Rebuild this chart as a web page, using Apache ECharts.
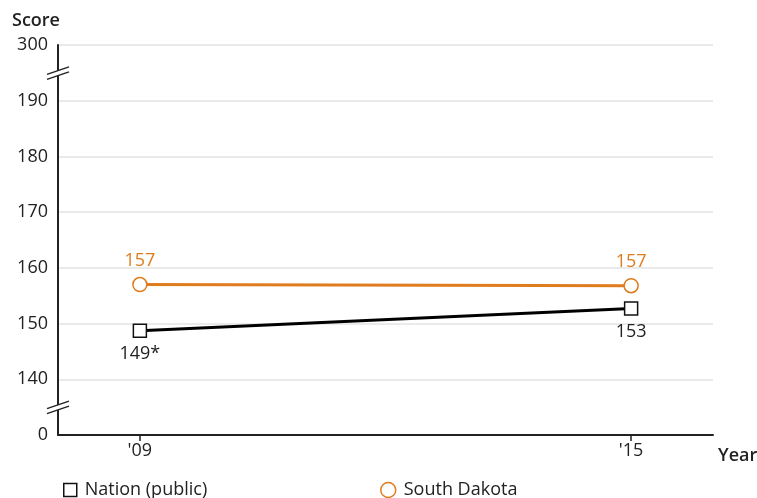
<!DOCTYPE html>
<html><head><meta charset="utf-8">
<script src="https://cdn.jsdelivr.net/npm/echarts@6/dist/echarts.min.js"></script>
<style>html,body{margin:0;padding:0;background:#fff}#c{width:757px;height:498px}</style>
</head><body><div id="c"></div>
<script>
const years = [2009, 2015];
const yearLabels = {2009: "'09", 2015: "'15"};
const nation = [148.7, 152.7];
const nationLabels = ['149*', '153'];
const sd = [157.0, 156.8];
const sdLabels = ['157', '157'];
// broken axis: virtual 130 shows "0", virtual 200 shows "300"
const yTickLabels = {130: '0', 140: '140', 150: '150', 160: '160', 170: '170', 180: '180', 190: '190', 200: '300'};

const FONT = 'Open Sans';
const ORANGE = '#df7c1e';
const chart = echarts.init(document.getElementById('c'));
chart.setOption({
  animation: false,
  textStyle: {fontFamily: FONT},
  grid: {left: 58, right: 44, top: 45, bottom: 63, outerBoundsMode: 'none', containLabel: false},
  xAxis: {
    type: 'value', min: 2008, max: 2016,
    axisLine: {lineStyle: {color: '#222', width: 2}},
    axisTick: {show: true, customValues: years, length: 6, lineStyle: {color: '#222', width: 1.5}},
    axisLabel: {customValues: years, formatter: v => yearLabels[v] || '', color: '#222', fontSize: 18, margin: 7, fontFamily: FONT},
    splitLine: {show: false},
    name: 'Year', nameLocation: 'end', nameGap: 5,
    nameTextStyle: {color: '#222', fontSize: 18, fontWeight: 600, fontFamily: FONT, verticalAlign: 'top', padding: [12, 0, 0, 0]}
  },
  yAxis: {
    type: 'value', min: 130, max: 200, interval: 10,
    axisLine: {show: true, lineStyle: {color: '#222', width: 2}},
    axisTick: {show: false},
    axisLabel: {formatter: v => yTickLabels[v] || '', color: '#222', fontSize: 18, margin: 10, fontFamily: FONT},
    splitLine: {lineStyle: {color: '#e3e3e3', width: 1.5}},
    name: 'Score', nameLocation: 'end', nameGap: 15,
    nameTextStyle: {color: '#222', fontSize: 18, fontWeight: 600, fontFamily: FONT, align: 'left', padding: [0, 0, 0, -46]}
  },
  legend: [
    {left: 58, top: 476, itemWidth: 13, itemHeight: 13, itemGap: 12,
     textStyle: {fontSize: 18, color: '#222', fontFamily: FONT, padding: [0, 0, 0, 3]},
     data: [{name: 'Nation (public)', icon: 'rect', itemStyle: {color: '#fff', borderColor: '#111', borderWidth: 1.5}}]},
    {left: 375, top: 476, itemWidth: 15, itemHeight: 15, itemGap: 12,
     textStyle: {fontSize: 18, color: '#222', fontFamily: FONT, padding: [0, 0, 0, 3]},
     data: [{name: 'South Dakota', icon: 'circle', itemStyle: {color: '#fff', borderColor: ORANGE, borderWidth: 1.5}}]}
  ],
  series: [
    {
      name: 'Nation (public)', type: 'line',
      data: years.map((y, i) => [y, nation[i]]),
      symbol: 'rect', symbolSize: 13,
      lineStyle: {color: '#000', width: 3},
      itemStyle: {color: '#fff', borderColor: '#111', borderWidth: 1.5},
      label: {show: true, position: 'bottom', distance: 7, color: '#222', fontSize: 18, fontFamily: FONT,
        formatter: p => nationLabels[p.dataIndex]},
      z: 3
    },
    {
      name: 'South Dakota', type: 'line',
      data: years.map((y, i) => [y, sd[i]]),
      symbol: 'circle', symbolSize: 14,
      lineStyle: {color: ORANGE, width: 3},
      itemStyle: {color: '#fff', borderColor: ORANGE, borderWidth: 1.5},
      label: {show: true, position: 'top', distance: 7, color: ORANGE, fontSize: 18, fontFamily: FONT,
        formatter: p => sdLabels[p.dataIndex]},
      z: 3
    }
  ]
});

// axis break marks
const breaks = [195, 135];
const gfx = [];
breaks.forEach(b => {
  const p = chart.convertToPixel({gridIndex: 0}, [2008, b]);
  const x = p[0], y = p[1];
  gfx.push({type: 'polygon', shape: {points: [[x - 10, y + 1], [x + 10, y - 6], [x + 10, y - 1], [x - 10, y + 6]]},
    style: {fill: '#fff'}, z: 100});
  gfx.push({type: 'line', shape: {x1: x - 11, y1: y + 1.5, x2: x + 11, y2: y - 6}, style: {stroke: '#222', lineWidth: 1.5}, z: 101});
  gfx.push({type: 'line', shape: {x1: x - 11, y1: y + 6.5, x2: x + 11, y2: y - 1}, style: {stroke: '#222', lineWidth: 1.5}, z: 101});
});
chart.setOption({graphic: gfx});
</script></body></html>
